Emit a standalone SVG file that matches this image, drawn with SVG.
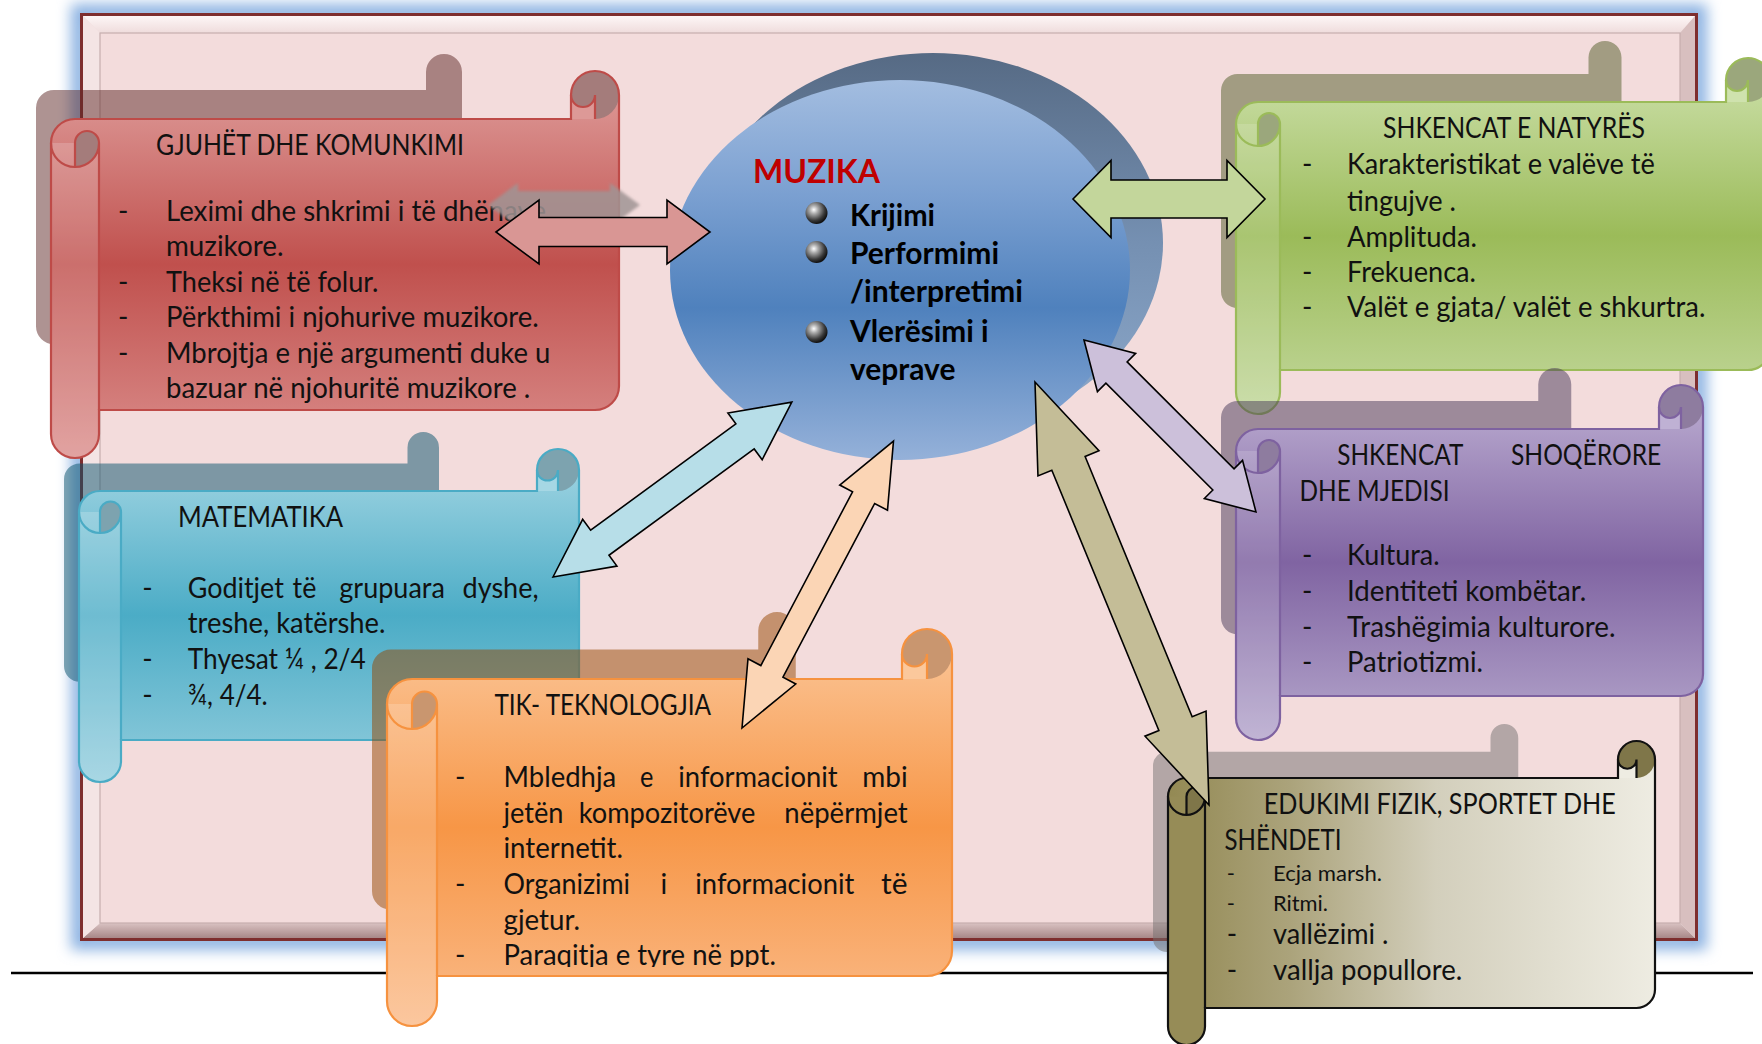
<svg xmlns="http://www.w3.org/2000/svg" width="1762" height="1044" viewBox="0 0 1762 1044">
<style>
.t{font-family:Lato,"Liberation Sans",sans-serif;font-size:28px;fill:#111}
.s{font-size:22px}
.b{font-weight:bold}
.ar{stroke:#000;stroke-width:1.6;stroke-linejoin:miter}
.edge{fill:none;stroke-width:2.2}
</style>
<defs>
<filter id="glow" x="-10%" y="-10%" width="120%" height="120%"><feGaussianBlur stdDeviation="7"/></filter>
<filter id="soft" x="-10%" y="-30%" width="120%" height="160%"><feGaussianBlur stdDeviation="1.8"/></filter>
<radialGradient id="ball" cx="0.38" cy="0.35" r="0.65"><stop offset="0" stop-color="#fff"/><stop offset="0.3" stop-color="#a9a9a9"/><stop offset="0.75" stop-color="#3a3a3a"/><stop offset="1" stop-color="#111"/></radialGradient>
<linearGradient id="gRed" x1="0" y1="0" x2="0" y2="1"><stop offset="0" stop-color="#e0a09e"/><stop offset="0.5" stop-color="#c0504d"/><stop offset="1" stop-color="#db8f8d"/></linearGradient>
<linearGradient id="gBlue" x1="0" y1="0" x2="0" y2="1"><stop offset="0" stop-color="#a6d7e4"/><stop offset="0.5" stop-color="#4bacc6"/><stop offset="1" stop-color="#93cddd"/></linearGradient>
<linearGradient id="gOr" x1="0" y1="0" x2="0" y2="1"><stop offset="0" stop-color="#fbc89c"/><stop offset="0.5" stop-color="#f79646"/><stop offset="1" stop-color="#fabb8a"/></linearGradient>
<linearGradient id="gGr" x1="0" y1="0" x2="0" y2="1"><stop offset="0" stop-color="#cfe2ae"/><stop offset="0.5" stop-color="#9bbb59"/><stop offset="1" stop-color="#c3d89d"/></linearGradient>
<linearGradient id="gPu" x1="0" y1="0" x2="0" y2="1"><stop offset="0" stop-color="#bfb1d4"/><stop offset="0.5" stop-color="#8064a2"/><stop offset="1" stop-color="#b6a8cd"/></linearGradient>
<linearGradient id="gOl" x1="0" y1="0" x2="1" y2="0"><stop offset="0" stop-color="#938953"/><stop offset="0.25" stop-color="#aba37b"/><stop offset="0.55" stop-color="#d3cfbc"/><stop offset="1" stop-color="#eeece2"/></linearGradient>
<linearGradient id="gEll" x1="0" y1="0" x2="0" y2="1"><stop offset="0" stop-color="#a3bde0"/><stop offset="0.3" stop-color="#7ba0d1"/><stop offset="0.6" stop-color="#4f81bd"/><stop offset="1" stop-color="#95b1d9"/></linearGradient>
<linearGradient id="gEllSh" x1="0" y1="0" x2="0" y2="1"><stop offset="0" stop-color="#566a84"/><stop offset="0.5" stop-color="#7590b2"/><stop offset="1" stop-color="#8eaacc"/></linearGradient>
<linearGradient id="gTop" x1="0" y1="0" x2="0" y2="1"><stop offset="0" stop-color="#fdf6f6"/><stop offset="1" stop-color="#efdcdc"/></linearGradient>
<linearGradient id="gBot" x1="0" y1="0" x2="0" y2="1"><stop offset="0" stop-color="#d9c2c2"/><stop offset="1" stop-color="#a88888"/></linearGradient>
<clipPath id="clipTik"><rect x="380" y="600" width="600" height="367"/></clipPath>
</defs>

<g id="frame">
<rect x="80" y="13" width="1618" height="928" fill="none" stroke="#8db3e2" stroke-width="18" filter="url(#glow)"/>
<rect x="80" y="13" width="1618" height="928" fill="#7e2e2e"/>
<rect x="83" y="16" width="1612" height="922" fill="#f1dfdf"/>
<polygon points="83,16 1695,16 1680,33 100,33" fill="url(#gTop)"/>
<polygon points="83,938 1695,938 1680,923 100,923" fill="url(#gBot)"/>
<polygon points="1695,16 1695,938 1680,923 1680,33" fill="#d8bfbf"/>
<polygon points="83,16 100,33 100,923 83,938" fill="#f4e4e4"/>
<rect x="100" y="33" width="1580" height="890" fill="#f3dcdc" stroke="#c6aeae" stroke-width="1.2"/>
</g>
<line id="rule" x1="11" y1="973" x2="1753" y2="973" stroke="#000" stroke-width="2.5"/>

<g id="muzika">
<ellipse cx="933" cy="243" rx="230" ry="190" fill="url(#gEllSh)"/>
<ellipse cx="900" cy="270" rx="230" ry="190" fill="url(#gEll)"/>
<text class="t b" x="753" y="183.3" style="fill:#c00000;font-size:33px" textLength="127" lengthAdjust="spacingAndGlyphs">MUZIKA</text>
<circle cx="816.5" cy="213" r="11" fill="url(#ball)"/>
<circle cx="816.5" cy="252" r="11" fill="url(#ball)"/>
<circle cx="816.5" cy="332" r="11" fill="url(#ball)"/>
<g class="t b" style="font-size:30px;fill:#000">
<text x="850" y="226" textLength="85" lengthAdjust="spacingAndGlyphs">Krijimi</text>
<text x="850" y="264" textLength="149" lengthAdjust="spacingAndGlyphs">Performimi</text>
<text x="850" y="302" textLength="173" lengthAdjust="spacingAndGlyphs">/interpretimi</text>
<text x="850" y="341.5" textLength="138.7" lengthAdjust="spacingAndGlyphs">Vlerësimi i</text>
<text x="850" y="380" textLength="105.4" lengthAdjust="spacingAndGlyphs">veprave</text>
</g>
</g>

<g id="gjuhet">
<path transform="translate(36,54) scale(0.75)" d="M0,72A24,24 0 0 1 24,48L520,48L520,24A24,24 0 0 1 568,24L568,315A24,24 0 0 1 544,339L48,339L48,363A24,24 0 0 1 0,363Z" fill="#5d2725" fill-opacity="0.5"/>
<g transform="translate(51,71)">
<path d="M0,72A24,24 0 0 1 24,48L520,48L520,24A24,24 0 0 1 568,24L568,315A24,24 0 0 1 544,339L48,339L48,363A24,24 0 0 1 0,363Z" fill="url(#gRed)"/>
<path d="M0,72L48,72L48,363A24,24 0 0 1 0,363Z" fill="#fff" fill-opacity="0.18"/>
<circle cx="544" cy="24" r="24" fill="#a47c7b"/>
<path d="M544,48L544,24A12,12 0 0 1 520,24L520,48Z" fill="#dd9997"/>
<path d="M24,96A24,24 0 0 0 48,72A12,12 0 0 0 24,72Z" fill="#a47c7b"/>
<path class="edge" stroke="#be4b48" d="M0,72A24,24 0 0 1 24,48L520,48L520,24A24,24 0 0 1 568,24L568,315A24,24 0 0 1 544,339L48,339L48,363A24,24 0 0 1 0,363Z"/>
<path class="edge" stroke="#be4b48" d="M544,48L544,24A12,12 0 0 1 520,24M24,96L24,72A12,12 0 0 1 48,72A24,24 0 0 1 0,72M48,72L48,339"/>
</g>
<g class="t">
<text x="156" y="155" textLength="308" lengthAdjust="spacingAndGlyphs">GJUHËT DHE KOMUNKIMI</text>
<text x="118" y="220.7">-</text>
<text x="166" y="220.7" textLength="380" lengthAdjust="spacingAndGlyphs">Leximi dhe shkrimi i të dhënave</text>
<text x="166" y="256" textLength="117.5" lengthAdjust="spacingAndGlyphs">muzikore.</text>
<text x="118" y="291.7">-</text>
<text x="166" y="291.7" textLength="212.5" lengthAdjust="spacingAndGlyphs">Theksi në të folur.</text>
<text x="118" y="327">-</text>
<text x="166" y="327" textLength="372.8" lengthAdjust="spacingAndGlyphs">Përkthimi i njohurive muzikore.</text>
<text x="118" y="362.7">-</text>
<text x="166" y="362.7" textLength="384.4" lengthAdjust="spacingAndGlyphs">Mbrojtja e një argumenti duke u</text>
<text x="166" y="398.3" textLength="364.3" lengthAdjust="spacingAndGlyphs">bazuar në njohuritë muzikore .</text>
</g>
</g>

<g id="matematika">
<path transform="translate(64,432) scale(0.75)" d="M0,63A21,21 0 0 1 21,42L458,42L458,21A21,21 0 0 1 500,21L500,270A21,21 0 0 1 479,291L42,291L42,312A21,21 0 0 1 0,312Z" fill="#07516b" fill-opacity="0.5"/>
<g transform="translate(79,449)">
<path d="M0,63A21,21 0 0 1 21,42L458,42L458,21A21,21 0 0 1 500,21L500,270A21,21 0 0 1 479,291L42,291L42,312A21,21 0 0 1 0,312Z" fill="url(#gBlue)"/>
<path d="M0,63L42,63L42,312A21,21 0 0 1 0,312Z" fill="#fff" fill-opacity="0.2"/>
<circle cx="479" cy="21" r="21" fill="#7da3af"/>
<path d="M479,42L479,21A10.5,10.5 0 0 1 458,21L458,42Z" fill="#a6d7e4"/>
<path d="M21,84A21,21 0 0 0 42,63A10.5,10.5 0 0 0 21,63Z" fill="#7da3af"/>
<path class="edge" stroke="#4aabc5" d="M0,63A21,21 0 0 1 21,42L458,42L458,21A21,21 0 0 1 500,21L500,270A21,21 0 0 1 479,291L42,291L42,312A21,21 0 0 1 0,312Z"/>
<path class="edge" stroke="#4aabc5" d="M479,42L479,21A10.5,10.5 0 0 1 458,21M21,84L21,63A10.5,10.5 0 0 1 42,63A21,21 0 0 1 0,63M42,63L42,291"/>
</g>
<g class="t">
<text x="178" y="526.7" textLength="165" lengthAdjust="spacingAndGlyphs">MATEMATIKA</text>
<text x="142.3" y="598.3">-</text>
<text y="598.3"><tspan x="187.8" textLength="96" lengthAdjust="spacingAndGlyphs">Goditjet</tspan><tspan x="292.6" textLength="23.7" lengthAdjust="spacingAndGlyphs">të</tspan><tspan x="339.3" textLength="105.6" lengthAdjust="spacingAndGlyphs">grupuara</tspan><tspan x="462.6" textLength="76" lengthAdjust="spacingAndGlyphs">dyshe,</tspan></text>
<text x="187.8" y="633.3" textLength="197.7" lengthAdjust="spacingAndGlyphs">treshe, katërshe.</text>
<text x="142.3" y="669.3">-</text>
<text x="187.8" y="669.3" textLength="177.9" lengthAdjust="spacingAndGlyphs">Thyesat ¼ , 2/4</text>
<text x="142.3" y="705">-</text>
<text x="187.8" y="705" textLength="79.9" lengthAdjust="spacingAndGlyphs">¾, 4/4.</text>
</g>
</g>

<g id="tik">
<path transform="translate(372,612) scale(0.75)" d="M0,75A25,25 0 0 1 25,50L515,50L515,25A25,25 0 0 1 565,25L565,322A25,25 0 0 1 540,347L50,347L50,372A25,25 0 0 1 0,372Z" fill="#954500" fill-opacity="0.5"/>
<g transform="translate(387,629)">
<path d="M0,75A25,25 0 0 1 25,50L515,50L515,25A25,25 0 0 1 565,25L565,322A25,25 0 0 1 540,347L50,347L50,372A25,25 0 0 1 0,372Z" fill="url(#gOr)"/>
<path d="M0,75L50,75L50,372A25,25 0 0 1 0,372Z" fill="#fff" fill-opacity="0.18"/>
<circle cx="540" cy="25" r="25" fill="#c9966f"/>
<path d="M540,50L540,25A12.5,12.5 0 0 1 515,25L515,50Z" fill="#fbc89c"/>
<path d="M25,100A25,25 0 0 0 50,75A12.5,12.5 0 0 0 25,75Z" fill="#c9966f"/>
<path class="edge" stroke="#f6923f" d="M0,75A25,25 0 0 1 25,50L515,50L515,25A25,25 0 0 1 565,25L565,322A25,25 0 0 1 540,347L50,347L50,372A25,25 0 0 1 0,372Z"/>
<path class="edge" stroke="#f6923f" d="M540,50L540,25A12.5,12.5 0 0 1 515,25M25,100L25,75A12.5,12.5 0 0 1 50,75A25,25 0 0 1 0,75M50,75L50,347"/>
</g>
<g class="t">
<text x="494.4" y="715" textLength="216.7" lengthAdjust="spacingAndGlyphs">TIK- TEKNOLOGJIA</text>
<text x="455" y="786.7">-</text>
<text y="786.7"><tspan x="503.5" textLength="112.7" lengthAdjust="spacingAndGlyphs">Mbledhja</tspan><tspan x="640" textLength="13.4" lengthAdjust="spacingAndGlyphs">e</tspan><tspan x="678.3" textLength="159.3" lengthAdjust="spacingAndGlyphs">informacionit</tspan><tspan x="862.2" textLength="45.5" lengthAdjust="spacingAndGlyphs">mbi</tspan></text>
<text y="822.7"><tspan x="503.5" textLength="60" lengthAdjust="spacingAndGlyphs">jetën</tspan><tspan x="578.7" textLength="176.7" lengthAdjust="spacingAndGlyphs">kompozitorëve</tspan><tspan x="784.3" textLength="123.4" lengthAdjust="spacingAndGlyphs">nëpërmjet</tspan></text>
<text x="503.5" y="858.3" textLength="119.5" lengthAdjust="spacingAndGlyphs">internetit.</text>
<text x="455" y="894.3">-</text>
<text y="894.3"><tspan x="503.5" textLength="126.5" lengthAdjust="spacingAndGlyphs">Organizimi</tspan><tspan x="660.5">i</tspan><tspan x="695.3" textLength="159" lengthAdjust="spacingAndGlyphs">informacionit</tspan><tspan x="881.1" textLength="26.5" lengthAdjust="spacingAndGlyphs">të</tspan></text>
<text x="503.5" y="930" textLength="76.5" lengthAdjust="spacingAndGlyphs">gjetur.</text>
<text x="455" y="965">-</text>
<text x="503.5" y="965" textLength="272.4" lengthAdjust="spacingAndGlyphs" clip-path="url(#clipTik)">Paraqitja e tyre në ppt.</text>
</g>
</g>

<g id="shkencat-natyres">
<path transform="translate(1221,41) scale(0.75)" d="M0,66A22,22 0 0 1 22,44L490,44L490,22A22,22 0 0 1 534,22L534,290A22,22 0 0 1 512,312L44,312L44,334A22,22 0 0 1 0,334Z" fill="#515b27" fill-opacity="0.5"/>
<g transform="translate(1236,58)">
<path d="M0,66A22,22 0 0 1 22,44L490,44L490,22A22,22 0 0 1 534,22L534,290A22,22 0 0 1 512,312L44,312L44,334A22,22 0 0 1 0,334Z" fill="url(#gGr)"/>
<path d="M0,66L44,66L44,334A22,22 0 0 1 0,334Z" fill="#fff" fill-opacity="0.15"/>
<circle cx="512" cy="22" r="22" fill="#9ba77c"/>
<path d="M512,44L512,22A11,11 0 0 1 490,22L490,44Z" fill="#cfe2ae"/>
<path d="M22,88A22,22 0 0 0 44,66A11,11 0 0 0 22,66Z" fill="#9ba77c"/>
<path class="edge" stroke="#9bbb59" d="M0,66A22,22 0 0 1 22,44L490,44L490,22A22,22 0 0 1 534,22L534,290A22,22 0 0 1 512,312L44,312L44,334A22,22 0 0 1 0,334Z"/>
<path class="edge" stroke="#9bbb59" d="M512,44L512,22A11,11 0 0 1 490,22M22,88L22,66A11,11 0 0 1 44,66A22,22 0 0 1 0,66M44,66L44,312"/>
</g>
<g class="t">
<text x="1383" y="138.3" textLength="262" lengthAdjust="spacingAndGlyphs">SHKENCAT E NATYRËS</text>
<text x="1302" y="174">-</text>
<text x="1347" y="174" textLength="307.7" lengthAdjust="spacingAndGlyphs">Karakteristikat e valëve të</text>
<text x="1347" y="211" textLength="109" lengthAdjust="spacingAndGlyphs">tingujve .</text>
<text x="1302" y="246.7">-</text>
<text x="1347" y="246.7" textLength="130" lengthAdjust="spacingAndGlyphs">Amplituda.</text>
<text x="1302" y="281.7">-</text>
<text x="1347" y="281.7" textLength="129" lengthAdjust="spacingAndGlyphs">Frekuenca.</text>
<text x="1302" y="316.7">-</text>
<text x="1347" y="316.7" textLength="358.4" lengthAdjust="spacingAndGlyphs">Valët e gjata/ valët e shkurtra.</text>
</g>
</g>

<g id="shkencat-shoqerore">
<path transform="translate(1221,368) scale(0.75)" d="M0,66A22,22 0 0 1 22,44L423,44L423,22A22,22 0 0 1 467,22L467,289A22,22 0 0 1 445,311L44,311L44,333A22,22 0 0 1 0,333Z" fill="#473757" fill-opacity="0.5"/>
<g transform="translate(1236,385)">
<path d="M0,66A22,22 0 0 1 22,44L423,44L423,22A22,22 0 0 1 467,22L467,289A22,22 0 0 1 445,311L44,311L44,333A22,22 0 0 1 0,333Z" fill="url(#gPu)"/>
<path d="M0,66L44,66L44,333A22,22 0 0 1 0,333Z" fill="#fff" fill-opacity="0.15"/>
<circle cx="445" cy="22" r="22" fill="#8e7c9f"/>
<path d="M445,44L445,22A11,11 0 0 1 423,22L423,44Z" fill="#bfb1d4"/>
<path d="M22,88A22,22 0 0 0 44,66A11,11 0 0 0 22,66Z" fill="#8e7c9f"/>
<path class="edge" stroke="#7e62a0" d="M0,66A22,22 0 0 1 22,44L423,44L423,22A22,22 0 0 1 467,22L467,289A22,22 0 0 1 445,311L44,311L44,333A22,22 0 0 1 0,333Z"/>
<path class="edge" stroke="#7e62a0" d="M445,44L445,22A11,11 0 0 1 423,22M22,88L22,66A11,11 0 0 1 44,66A22,22 0 0 1 0,66M44,66L44,311"/>
</g>
<g class="t">
<text y="465"><tspan x="1337.3" textLength="126" lengthAdjust="spacingAndGlyphs">SHKENCAT</tspan><tspan x="1511" textLength="150.3" lengthAdjust="spacingAndGlyphs">SHOQËRORE</tspan></text>
<text x="1299.5" y="500.7" textLength="150" lengthAdjust="spacingAndGlyphs">DHE MJEDISI</text>
<text x="1302" y="565">-</text>
<text x="1347" y="565" textLength="92.6" lengthAdjust="spacingAndGlyphs">Kultura.</text>
<text x="1302" y="600.7">-</text>
<text x="1347" y="600.7" textLength="239.4" lengthAdjust="spacingAndGlyphs">Identiteti kombëtar.</text>
<text x="1302" y="636.7">-</text>
<text x="1347" y="636.7" textLength="268.6" lengthAdjust="spacingAndGlyphs">Trashëgimia kulturore.</text>
<text x="1302" y="671.7">-</text>
<text x="1347" y="671.7" textLength="136" lengthAdjust="spacingAndGlyphs">Patriotizmi.</text>
</g>
</g>

<g id="edukimi">
<path transform="translate(1153,724) scale(0.75)" d="M0,55.5A18.5,18.5 0 0 1 18.5,37L450,37L450,18.5A18.5,18.5 0 0 1 487,18.5L487,248.5A18.5,18.5 0 0 1 468.5,267L37,267L37,285.5A18.5,18.5 0 0 1 0,285.5Z" fill="#736f6f" fill-opacity="0.5"/>
<g transform="translate(1168,741)">
<path d="M0,55.5A18.5,18.5 0 0 1 18.5,37L450,37L450,18.5A18.5,18.5 0 0 1 487,18.5L487,248.5A18.5,18.5 0 0 1 468.5,267L37,267L37,285.5A18.5,18.5 0 0 1 0,285.5Z" fill="url(#gOl)"/>
<path d="M0,55.5L37,55.5L37,285.5A18.5,18.5 0 0 1 0,285.5Z" fill="#968c57"/>
<circle cx="468.5" cy="18.5" r="18.5" fill="#7f7649"/>
<path d="M468.5,37L468.5,18.5A9.25,9.25 0 0 1 450,18.5L450,37Z" fill="#eeece2"/>
<path d="M18.5,74A18.5,18.5 0 0 0 37,55.5A9.25,9.25 0 0 0 18.5,55.5Z" fill="#7f7649"/>
<path class="edge" stroke="#111" d="M0,55.5A18.5,18.5 0 0 1 18.5,37L450,37L450,18.5A18.5,18.5 0 0 1 487,18.5L487,248.5A18.5,18.5 0 0 1 468.5,267L37,267L37,285.5A18.5,18.5 0 0 1 0,285.5Z"/>
<path class="edge" stroke="#111" d="M468.5,37L468.5,18.5A9.25,9.25 0 0 1 450,18.5M18.5,74L18.5,55.5A9.25,9.25 0 0 1 37,55.5A18.5,18.5 0 0 1 0,55.5M37,55.5L37,267"/>
</g>
<g class="t">
<text x="1263.8" y="814.3" textLength="352" lengthAdjust="spacingAndGlyphs">EDUKIMI FIZIK, SPORTET DHE</text>
<text x="1224.5" y="850" textLength="117" lengthAdjust="spacingAndGlyphs">SHËNDETI</text>
<text class="s" x="1226.7" y="881">-</text>
<text class="s" x="1273" y="881" textLength="109" lengthAdjust="spacingAndGlyphs">Ecja marsh.</text>
<text class="s" x="1226.7" y="910.7">-</text>
<text class="s" x="1273" y="910.7" textLength="55" lengthAdjust="spacingAndGlyphs">Ritmi.</text>
<text x="1226.7" y="944.3">-</text>
<text x="1273" y="944.3" textLength="115.4" lengthAdjust="spacingAndGlyphs">vallëzimi .</text>
<text x="1226.7" y="980">-</text>
<text x="1273" y="980" textLength="189.3" lengthAdjust="spacingAndGlyphs">vallja popullore.</text>
</g>
</g>

<g id="connectors">
<polygon points="0,0 30,-22 30,-14 122,-14 122,-22 152,0 122,22 122,14 30,14 30,22" transform="translate(488,205)" fill="#a09494" fill-opacity="0.85" filter="url(#soft)"/>
<polygon class="ar" fill="#d99694" points="0,0 43,-32 43,-14.5 171,-14.5 171,-32 214,0 171,32 171,14.5 43,14.5 43,32" transform="translate(496,232)"/>
<polygon class="ar" fill="#c3d69b" points="0,0 38,-38.5 38,-19 154,-19 154,-38.5 192,0 154,38.5 154,19 38,19 38,38.5" transform="translate(1073,199)"/>
<polygon class="ar" fill="#b7dee8" points="0,0 58,-29 58,-15.5 238,-15.5 238,-29 296,0 238,29 238,15.5 58,15.5 58,29" transform="translate(553,577) rotate(-36.21)"/>
<polygon class="ar" fill="#fbd5b5" points="0,0 64,-27 64,-12.5 260.5,-12.5 260.5,-27 324.5,0 260.5,27 260.5,12.5 64,12.5 64,27" transform="translate(742,728) rotate(-62.17)"/>
<polygon class="ar" fill="#c4bd97" points="0,0 88,-33 88,-18 369.4,-18 369.4,-33 457.4,0 369.4,33 369.4,18 88,18 88,33" transform="translate(1209,805) rotate(-112.36)"/>
<polygon class="ar" fill="#ccc0da" points="0,0 46,-27 46,-15 197.2,-15 197.2,-27 243.2,0 197.2,27 197.2,15 46,15 46,27" transform="translate(1084,340) rotate(45)"/>
</g>
</svg>
